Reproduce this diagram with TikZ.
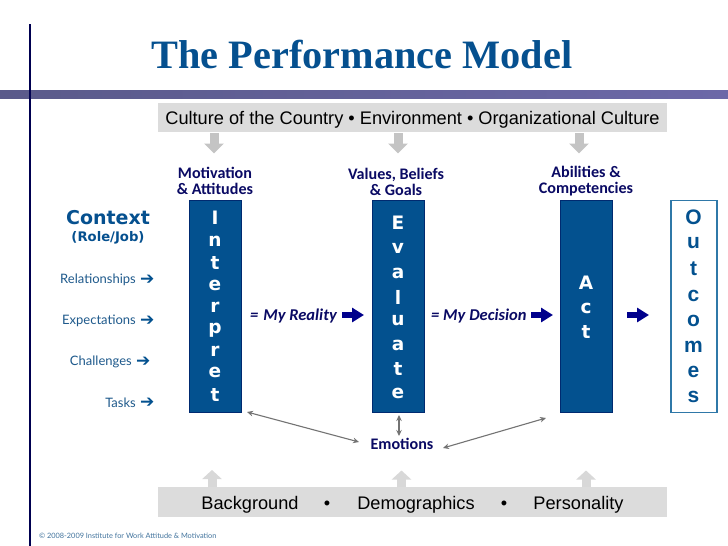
\documentclass[tikz,border=0pt]{standalone}
\usepackage{fontspec}
\setmainfont{Liberation Sans}
\newfontfamily\titlefont{Liberation Serif}
\newfontfamily\carlfont{Carlito}
\newfontfamily\djvfont{DejaVu Sans}
\newfontfamily\latofont{Lato}
\usetikzlibrary{arrows.meta,positioning}
\definecolor{navyline}{HTML}{000050}
\definecolor{bluetitle}{HTML}{05508F}
\definecolor{boxblue}{HTML}{03518F}
\definecolor{boxedge}{HTML}{002A70}
\definecolor{darkblue}{HTML}{0A0A64}
\definecolor{arrowblue}{HTML}{00008C}
\definecolor{outedge}{HTML}{2F78A8}
\definecolor{greybox}{HTML}{DCDCDC}
\definecolor{greyarrow}{HTML}{C4C4C4}
\definecolor{lightarrow}{HTML}{D8D8D8}
\definecolor{ctxblue}{HTML}{1F5A8C}
\definecolor{barleft}{HTML}{5A5A8A}
\definecolor{barright}{HTML}{6C68A8}
\tikzset{
  stagebox/.style={draw=boxedge,fill=boxblue,line width=.8pt,minimum width=52pt,minimum height=212pt,inner sep=0pt},
  outbox/.style={draw=outedge,fill=white,line width=1.6pt,minimum width=46pt,minimum height=212pt,inner sep=0pt},
  letter/.style={text=white,font=\djvfont\bfseries\fontsize{18.5}{18}\selectfont,inner sep=0pt},
  outletter/.style={text=boxblue,font=\bfseries\fontsize{21}{21}\selectfont,inner sep=0pt},
  band/.style={fill=greybox,inner sep=0pt},
  bandtext/.style={font=\fontsize{18.2}{20}\selectfont,text=black,inner sep=0pt,anchor=base},
  factor/.style={font=\carlfont\bfseries\fontsize{16.1}{16}\selectfont,text=darkblue,align=center,inner sep=0pt},
  ctx/.style={font=\latofont\fontsize{13}{14}\selectfont,text=ctxblue,inner sep=0pt,anchor=east},
  ctxarrow/.style={font=\djvfont\bfseries\fontsize{17}{14}\selectfont,text=boxblue,inner sep=0pt},
  say/.style={font=\carlfont\bfseries\itshape\fontsize{16.5}{16}\selectfont,text=darkblue,inner sep=0pt},
  blockflow/.style={arrowblue,line width=6pt,-{Triangle[length=12pt,width=14pt]}},
  downgrey/.style={greyarrow,line width=9pt,-{Triangle[length=10pt,width=19pt]}},
  upgrey/.style={lightarrow,line width=9pt,-{Triangle[length=9pt,width=19pt]}},
  link/.style={draw=gray!90!black,line width=1.1pt,{Stealth[length=6pt,width=5.5pt]}-{Stealth[length=6pt,width=5.5pt]}}
}
\begin{document}
\begin{tikzpicture}[x=1pt,y=-1pt]
\useasboundingbox[fill=white] (0,0) rectangle (728,546);
% frame lines
\shade[left color=barleft,right color=barright] (0,90) rectangle (728,98);
\fill[navyline] (28.5,24) rectangle (30.5,546);
% title
\node[font=\titlefont\bfseries\fontsize{40.3}{42}\selectfont,text=bluetitle,inner sep=0pt] (title) at (362,55) {The Performance Model};
% bands
\node[band,minimum width=509pt,minimum height=29pt] (topband) at (412.5,117.5) {};
\node[bandtext] (toptext) at (412.5,124) {Culture of the Country • Environment • Organizational Culture};
\node[band,minimum width=509pt,minimum height=30pt] (botband) at (412.5,502) {};
\node[bandtext] (bg) at (250,509) {Background};
\node[bandtext] (b1) at (327,509) {•};
\node[bandtext] (dem) at (416,509) {Demographics};
\node[bandtext] (b2) at (504,509) {•};
\node[bandtext] (per) at (578.5,509) {Personality};
% factors
\node[factor] (mot) at (215,181) {Motivation\\\& Attitudes};
\node[factor] (val) at (396,182) {Values, Beliefs\\\& Goals};
\node[factor] (abi) at (586,181) {Abilities \&\\Competencies};
% grey arrows
\coordinate (d1a) at (214,133); \coordinate (d1b) at (214,153.5);
\coordinate (d2a) at (398,133); \coordinate (d2b) at (398,153.5);
\coordinate (d3a) at (579,133); \coordinate (d3b) at (579,153.5);
\draw[downgrey] (d1a) -- (d1b);
\draw[downgrey] (d2a) -- (d2b);
\draw[downgrey] (d3a) -- (d3b);
\coordinate (u1a) at (212,487); \coordinate (u1b) at (212,470);
\coordinate (u2a) at (401.5,487); \coordinate (u2b) at (401.5,470.5);
\coordinate (u3a) at (586,487); \coordinate (u3b) at (586,470.5);
\draw[upgrey] (u1a) -- (u1b);
\draw[upgrey] (u2a) -- (u2b);
\draw[upgrey] (u3a) -- (u3b);
% stage boxes
\node[stagebox] (int) at (215,306) {};
\node[stagebox] (eva) at (398,306) {};
\node[stagebox] (act) at (586,306) {};
\node[outbox] (out) at (694,306.5) {};
\foreach \c/\y in {I/218,n/241,t/263,e/285.5,r/307,p/330,r/351,e/372.5,t/394.5}
  \node[letter] at (215,\y) {\c};
\foreach \c/\y in {E/223,v/248,a/273,l/297,u/321,a/345,t/369,e/393}
  \node[letter] at (398,\y) {\c};
\foreach \c/\y in {A/283,c/308,t/332}
  \node[letter] at (586,\y) {\c};
\foreach \c/\y in {O/217,u/243,t/269,c/296,o/321,m/347,e/372,s/397}
  \node[outletter] at (693.5,\y) {\c};
% context
\node[font=\djvfont\bfseries\fontsize{19}{20}\selectfont,text=bluetitle,inner sep=0pt] (context) at (108,218) {Context};
\node[font=\djvfont\bfseries\fontsize{13.2}{14}\selectfont,text=bluetitle,inner sep=0pt] (role) at (108,238) {(Role/Job)};
\node[ctx] (rel) at (136,280) {Relationships};
\node[ctx] (exp) at (136,321) {Expectations};
\node[ctx] (cha) at (132,362) {Challenges};
\node[ctx] (tas) at (136,403) {Tasks};
\node[ctxarrow,right=4pt of rel] (ra1) {➔};
\node[ctxarrow,right=4pt of exp] (ra2) {➔};
\node[ctxarrow,right=4pt of cha] (ra3) {➔};
\node[ctxarrow,right=4pt of tas] (ra4) {➔};
% flow
\node[say,anchor=west] (real) at (250,316) {=\hspace{5pt}My Reality};
\node[say,anchor=west] (dec) at (431,316) {= My\hspace{4pt}Decision};
\coordinate (f1a) at (342,315); \coordinate (f1b) at (364,315);
\coordinate (f2a) at (531,315); \coordinate (f2b) at (553,315);
\coordinate (f3a) at (627,315); \coordinate (f3b) at (649,315);
\draw[blockflow] (f1a) -- (f1b);
\draw[blockflow] (f2a) -- (f2b);
\draw[blockflow] (f3a) -- (f3b);
% emotions
\node[factor] (emo) at (402,444) {Emotions};
\coordinate (e1a) at (247,412); \coordinate (e1b) at (359,442);
\coordinate (e2a) at (399,415); \coordinate (e2b) at (399,436);
\coordinate (e3a) at (443,448); \coordinate (e3b) at (546,418);
\draw[link] (e1a) -- (e1b);
\draw[link] (e2a) -- (e2b);
\draw[link] (e3a) -- (e3b);
% copyright
\node[font=\latofont\fontsize{7.35}{8}\selectfont,text=ctxblue!85!white,anchor=west,inner sep=0pt] (copy) at (39,536) {© 2008-2009 Institute for Work Attitude \& Motivation};
\end{tikzpicture}
\end{document}
